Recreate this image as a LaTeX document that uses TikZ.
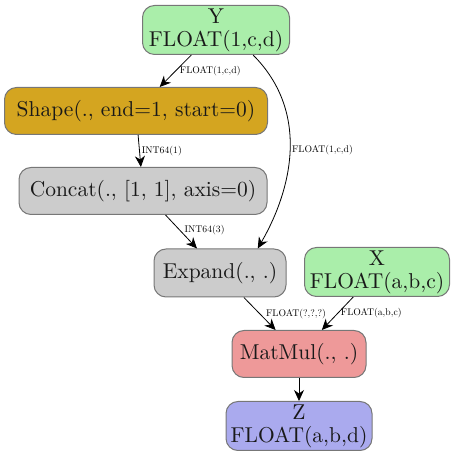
\documentclass[tikz,border=0pt]{standalone}
\usepackage{fontspec}
\setmainfont{lmroman10-regular.otf}
\usetikzlibrary{arrows.meta}
\definecolor{ingreen}{HTML}{AAEEAA}
\definecolor{shapegold}{HTML}{D4A520}
\definecolor{opgray}{HTML}{CCCCCC}
\definecolor{mulred}{HTML}{EE9999}
\definecolor{outblue}{HTML}{AAAAEE}
\definecolor{edgegray}{HTML}{777777}
\begin{document}
\begin{tikzpicture}[x=1pt, y=1pt, >={Stealth[length=11pt, width=10pt, inset=3.5pt]},
    box/.style={draw=edgegray, line width=1pt, rounded corners=12pt, align=center, inner sep=0pt,
        text=black!90, font=\fontsize{21.5}{23}\selectfont},
    lbl/.style={font=\fontsize{9.7}{10}\selectfont, inner sep=1pt, anchor=west}]
    \useasboundingbox (0,0) rectangle (456,457);
    
    % 1. Các nút
    \node[box, fill=ingreen, minimum width=147pt, minimum height=49pt] (Y) at (216,427) {Y\\FLOAT(1,c,d)};
    \node[box, fill=shapegold, minimum width=263pt, minimum height=47pt] (Shape) at (136,346) {Shape(., end=1, start=0)};
    \node[box, fill=opgray, minimum width=248pt, minimum height=47pt] (Concat) at (143,266) {Concat(., [1, 1], axis=0)};
    \node[box, fill=opgray, minimum width=132pt, minimum height=48pt] (Expand) at (220,184) {Expand(., .)};
    \node[box, fill=ingreen, minimum width=145pt, minimum height=49pt] (X) at (377,185) {X\\FLOAT(a,b,c)};
    \node[box, fill=mulred, minimum width=134pt, minimum height=47pt] (MatMul) at (299,103) {MatMul(., .)};
    \node[box, fill=outblue, minimum width=146pt, minimum height=49pt] (Z) at (299,31) {Z\\FLOAT(a,b,d)};
    
    % 2. Các cạnh
    \draw[->, thick] (Y) -- (Shape) node[lbl, midway, xshift=3pt] {FLOAT(1,c,d)};
    \draw[->, thick] (Y.-34) to[out=-45, in=60, out distance=80pt, in distance=70pt]
        node[lbl, pos=0.5, xshift=1pt] {FLOAT(1,c,d)} (Expand.33);
    \draw[->, thick] (Shape) -- (Concat) node[lbl, midway, xshift=1pt] {INT64(1)};
    \draw[->, thick] (Concat) -- (Expand) node[lbl, midway, xshift=2pt, yshift=2pt] {INT64(3)};
    \draw[->, thick] (Expand) -- (MatMul) node[lbl, midway, xshift=5pt] {FLOAT(?,?,?)};
    \draw[->, thick] (X) -- (MatMul) node[lbl, midway, xshift=2pt] {FLOAT(a,b,c)};
    \draw[->, thick] (MatMul) -- (Z);
    
\end{tikzpicture}
\end{document}
